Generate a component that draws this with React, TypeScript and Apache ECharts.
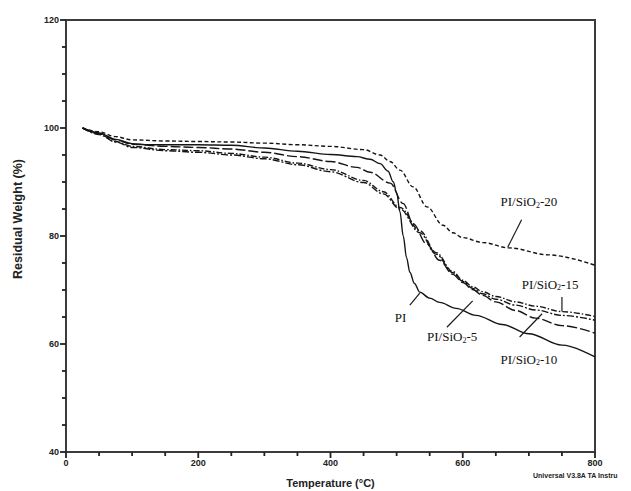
import React, { useEffect, useRef } from "react";
import * as echarts from "echarts";

const PI: [number, number][] = [
  [25, 100], [50, 99.1], [75, 97.9], [100, 97.1], [125, 96.9], [150, 96.9], [200, 96.9],
  [250, 96.8], [300, 96.3], [350, 95.7], [400, 95.1], [440, 94.7], [460, 94.2], [475, 93.4],
  [487, 92.0], [495, 90.0], [500, 88.0], [505, 84.5], [510, 80.0], [515, 76.0], [520, 73.3],
  [527, 71.2], [535, 69.6], [550, 68.5], [565, 67.7], [590, 66.6], [620, 65.3], [660, 63.6],
  [700, 61.9], [750, 59.8], [800, 57.6],
];
const SIO2_5: [number, number][] = [
  [25, 100], [50, 98.8], [75, 97.4], [100, 96.4], [150, 95.8], [200, 95.5], [250, 95.0],
  [300, 94.3], [350, 93.2], [400, 91.9], [450, 89.9], [480, 87.8], [505, 85.0], [535, 80.6],
  [560, 76.6], [585, 73.2], [600, 71.6], [615, 70.3], [630, 69.3], [650, 68.3], [680, 67.2],
  [710, 66.3], [750, 65.3], [800, 64.4],
];
const SIO2_10: [number, number][] = [
  [25, 100], [50, 99.0], [75, 97.8], [100, 97.0], [150, 96.6], [200, 96.4], [250, 96.1],
  [300, 95.5], [350, 94.7], [400, 93.8], [440, 92.7], [460, 91.8], [490, 89.8], [510, 86.0],
  [525, 82.3], [545, 78.6], [565, 75.5], [585, 72.9], [600, 71.4], [615, 70.1], [630, 69.0],
  [650, 67.8], [680, 66.2], [710, 64.8], [750, 63.4], [800, 62.0],
];
const SIO2_15: [number, number][] = [
  [25, 100], [50, 98.9], [75, 97.5], [100, 96.6], [150, 96.0], [200, 95.8], [250, 95.3],
  [300, 94.6], [350, 93.5], [400, 92.3], [450, 90.3], [480, 88.2], [505, 85.3], [535, 81.0],
  [560, 76.9], [585, 73.4], [600, 71.8], [615, 70.6], [630, 69.7], [650, 68.8], [680, 67.8],
  [710, 67.0], [750, 66.0], [800, 65.1],
];
const SIO2_20: [number, number][] = [
  [25, 100], [50, 99.3], [75, 98.4], [100, 97.8], [150, 97.6], [200, 97.5], [250, 97.4],
  [300, 97.2], [350, 96.9], [400, 96.6], [450, 96.0], [475, 95.0], [490, 93.8], [505, 92.2],
  [525, 89.1], [546, 85.4], [570, 82.0], [585, 80.6], [600, 79.7], [630, 78.8], [670, 77.8],
  [730, 76.5], [800, 74.6],
];

const X_TICKS = [0, 200, 400, 600, 800];
const Y_TICKS = [40, 60, 80, 100, 120];
const X_MINOR = [50, 100, 150, 250, 300, 350, 450, 500, 550, 650, 700, 750];
const Y_MINOR = [45, 50, 55, 65, 70, 75, 85, 90, 95, 105, 110, 115];

const LABELS: { pre: string; sub: string; post: string; at: [number, number]; from: [number, number]; to: [number, number] }[] = [
  { pre: "PI/SiO", sub: "2", post: "-20", at: [700, 86.3], from: [689, 83.0], to: [668, 77.9] },
  { pre: "PI/SiO", sub: "2", post: "-15", at: [732, 71.1], from: [750, 68.7], to: [750, 66.0] },
  { pre: "PI/SiO", sub: "2", post: "-5", at: [584, 61.3], from: [576, 63.1], to: [615, 68.0] },
  { pre: "PI/SiO", sub: "2", post: "-10", at: [700, 57.2], from: [686, 61.3], to: [720, 65.6] },
  { pre: "PI", sub: "", post: "", at: [506, 65.0], from: [520, 67.2], to: [535, 69.4] },
];

export default function App() {
  const ref = useRef<HTMLDivElement>(null);
  useEffect(() => {
    if (!ref.current) return;
    const chart = echarts.init(ref.current, null, { renderer: "svg" });
    const lineCol = "#151515";
    const mk = (name: string, data: [number, number][], type: any, width = 1.4) => ({
      name,
      type: "line",
      data,
      showSymbol: false,
      smooth: 0.35,
      smoothMonotone: "x",
      lineStyle: { color: lineCol, width, type },
      z: 3,
    });
    const axisLabel = { color: "#222", fontFamily: "Liberation Sans", fontWeight: "bold", fontSize: 9 };
    chart.setOption({
      animation: false,
      backgroundColor: "#fff",
      grid: {
        left: 66, right: 36, top: 20, bottom: 39,
        outerBoundsMode: "none",
        containLabel: false,
        show: true, borderColor: "#3c3c3c", borderWidth: 2, backgroundColor: "transparent",
      },
      xAxis: {
        type: "value",
        min: 0,
        max: 800,
        interval: 200,
        name: "Temperature (°C)",
        nameLocation: "middle",
        nameGap: 25,
        nameTextStyle: { color: "#222", fontFamily: "Liberation Sans", fontWeight: "bold", fontSize: 11 },
        axisLine: { show: true, onZero: false, lineStyle: { color: "#3c3c3c", width: 2 } },
        axisTick: { show: false },
        splitLine: { show: false },
        axisLabel: { ...axisLabel, margin: 6, formatter: (v: number) => (X_TICKS.includes(v) ? String(v) : "") },
      },
      yAxis: {
        type: "value",
        min: 40,
        max: 120,
        interval: 20,
        axisLine: { show: true, onZero: false, lineStyle: { color: "#3c3c3c", width: 2 } },
        axisTick: { show: false },
        splitLine: { show: false },
        axisLabel: { ...axisLabel, margin: 7, formatter: (v: number) => (Y_TICKS.includes(v) ? String(v) : "") },
      },
      series: [
        mk("PI", PI, "solid"),
        mk("PI/SiO2-5", SIO2_5, [7, 2, 2, 2]),
        mk("PI/SiO2-10", SIO2_10, [10, 3]),
        mk("PI/SiO2-15", SIO2_15, [6, 2, 1.5, 2]),
        mk("PI/SiO2-20", SIO2_20, [4, 2.5]),
      ],
    });
    const graphics: any[] = [];
    const tickStyle = { stroke: "#222", lineWidth: 1.8 };
    const px = (pt: [number, number]) => chart.convertToPixel({ gridIndex: 0 }, pt) as number[];
    X_TICKS.forEach((v) => {
      const p = px([v, 40]);
      graphics.push({ type: "line", shape: { x1: p[0], y1: p[1], x2: p[0], y2: p[1] + 6 }, style: tickStyle, z: 10 });
    });
    X_MINOR.forEach((v) => {
      const p = px([v, 40]);
      graphics.push({ type: "line", shape: { x1: p[0], y1: p[1], x2: p[0], y2: p[1] + 4 }, style: tickStyle, z: 10 });
    });
    Y_TICKS.forEach((v) => {
      const p = px([0, v]);
      graphics.push({ type: "line", shape: { x1: p[0], y1: p[1], x2: p[0] - 6, y2: p[1] }, style: tickStyle, z: 10 });
    });
    Y_MINOR.forEach((v) => {
      const p = px([0, v]);
      graphics.push({ type: "line", shape: { x1: p[0], y1: p[1], x2: p[0] - 4, y2: p[1] }, style: tickStyle, z: 10 });
    });
    LABELS.forEach((l) => {
      const p = px(l.at);
      const a = px(l.from);
      const b = px(l.to);
      graphics.push({
        type: "line",
        shape: { x1: a[0], y1: a[1], x2: b[0], y2: b[1] },
        style: { stroke: "#1a1a1a", lineWidth: 1.2 },
        z: 10,
      });
      const txt = l.sub ? `{a|${l.pre}}{b|${l.sub}}{a|${l.post}}` : `{a|${l.pre}}`;
      graphics.push({
        type: "text",
        x: p[0],
        y: p[1],
        z: 10,
        style: {
          text: txt,
          align: "center",
          verticalAlign: "middle",
          fill: "#111",
          rich: {
            a: { fontFamily: "Liberation Serif", fontSize: 13, lineHeight: 15, fill: "#111" },
            b: { fontFamily: "Liberation Serif", fontSize: 8, lineHeight: 15, verticalAlign: "bottom", padding: [6, 0, 0, 0], fill: "#111" },
          },
        },
      });
    });
    graphics.push({
      type: "text",
      x: 18,
      y: 219,
      rotation: Math.PI / 2,
      z: 10,
      style: {
        text: "Residual Weight (%)",
        align: "center",
        verticalAlign: "middle",
        fontFamily: "Liberation Sans",
        fontWeight: "bold",
        fontSize: 12.5,
        fill: "#222",
      },
    });
    graphics.push({
      type: "text",
      left: 533,
      top: 472,
      style: { text: "Universal V3.8A TA Instru", fontFamily: "Liberation Sans", fontWeight: "bold", fontSize: 7, fill: "#222" },
    });
    chart.setOption({ graphic: graphics });
    return () => chart.dispose();
  }, []);
  return <div ref={ref} style={{ position: "absolute", left: 0, top: 0, width: 631, height: 491 }} />;
}
